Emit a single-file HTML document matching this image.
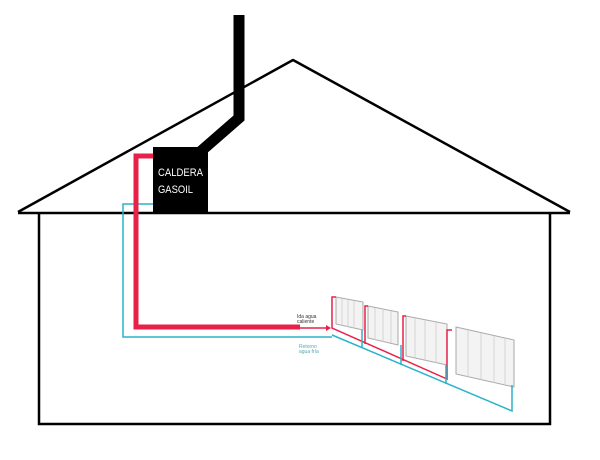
<!DOCTYPE html>
<html><head><style>body{margin:0;background:#fff}svg{display:block}</style></head><body>
<svg width="600" height="460" viewBox="0 0 600 460" xmlns="http://www.w3.org/2000/svg">
<rect width="600" height="460" fill="#fff"/>
<polyline points="18,212 293,60 570,212" fill="none" stroke="#000" stroke-width="2.5" stroke-linejoin="round"/>
<line x1="18" y1="213" x2="570" y2="213" stroke="#000" stroke-width="2.5"/>
<polyline points="39,213 39,424 550,424 550,213" fill="none" stroke="#000" stroke-width="2.5"/>
<polyline points="239,15 239,118 200,152" fill="none" stroke="#000" stroke-width="11"/>
<rect x="153" y="147" width="55" height="67" fill="#000"/>
<text x="158" y="176" font-family="Liberation Sans, sans-serif" font-size="11" fill="#fff" textLength="45" lengthAdjust="spacingAndGlyphs">CALDERA</text>
<text x="158" y="193" font-family="Liberation Sans, sans-serif" font-size="11" fill="#fff" textLength="35" lengthAdjust="spacingAndGlyphs">GASOIL</text>
<polyline points="153,204 123,204 123,337 332,337" fill="none" stroke="#2bb3c8" stroke-width="1.5"/>
<polyline points="153,156 136,156 136,327 300,327" fill="none" stroke="#e8204a" stroke-width="5"/>
<line x1="300" y1="328" x2="326" y2="328" stroke="#e8204a" stroke-width="1.5"/>
<polygon points="326,325 331,328 326,331" fill="#e8204a"/>
<text x="297" y="318" font-family="Liberation Sans, sans-serif" font-size="5" fill="#333">Ida agua</text>
<text x="297" y="323" font-family="Liberation Sans, sans-serif" font-size="5" fill="#333">caliente</text>
<text x="299" y="348" font-family="Liberation Sans, sans-serif" font-size="5" fill="#5aa">Retorno</text>
<text x="299" y="353" font-family="Liberation Sans, sans-serif" font-size="5" fill="#5aa">agua fría</text>
<g fill="#f3f3f3" stroke="#aaa" stroke-width="1">
<polygon points="336,297 363,302 363,330 336,324"/>
<polygon points="368,306 398,312 398,345 368,338"/>
<polygon points="406,316 447,324 447,365 406,356"/>
<polygon points="456,327 514,340 514,387 456,374"/>
</g>
<g stroke="#ccc" stroke-width="0.8">
<line x1="342" y1="299" x2="342" y2="326"/><line x1="348" y1="300" x2="348" y2="327"/><line x1="354" y1="301" x2="354" y2="328"/>
<line x1="375" y1="308" x2="375" y2="340"/><line x1="383" y1="309" x2="383" y2="342"/><line x1="391" y1="311" x2="391" y2="343"/>
<line x1="415" y1="318" x2="415" y2="358"/><line x1="425" y1="320" x2="425" y2="360"/><line x1="436" y1="322" x2="436" y2="363"/>
<line x1="468" y1="330" x2="468" y2="377"/><line x1="481" y1="333" x2="481" y2="380"/><line x1="494" y1="336" x2="494" y2="383"/><line x1="505" y1="338" x2="505" y2="385"/>
</g>
<g fill="none" stroke="#e8204a" stroke-width="1.5">
<polyline points="336,297 332,297 332,328 447,379 447,330 452,330"/>
<polyline points="368,306 365,306 365,344"/>
<polyline points="406,316 403,316 403,361"/>
</g>
<g fill="none" stroke="#2bb3c8" stroke-width="1.5">
<polyline points="332,335 512,411 512,385"/>
<line x1="362" y1="330" x2="362" y2="348"/>
<line x1="401" y1="345" x2="401" y2="365"/>
<line x1="446" y1="365" x2="446" y2="384"/>
</g>
</svg>
</body></html>
